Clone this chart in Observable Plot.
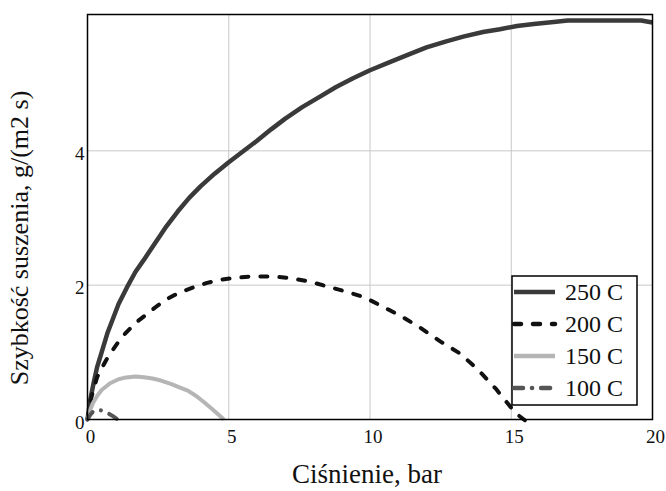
<!DOCTYPE html>
<html>
<head>
<meta charset="utf-8">
<script src="https://cdn.jsdelivr.net/npm/d3@7"></script>
<script src="https://cdn.jsdelivr.net/npm/@observablehq/plot@0.6"></script>
<style>
  html, body { margin: 0; padding: 0; background: #fff; }
  #chart { width: 666px; height: 491px; }
</style>
</head>
<body>
<div id="chart"></div>
<script>
// ---- data ----
const xTicks = [0, 5, 10, 15, 20];
const yTicks = [0, 2, 4];
const seriesNames = ["250 C", "200 C", "150 C", "100 C"];

const p250 = [0, 0.1, 0.22, 0.34, 0.5, 0.7, 0.9, 1.1, 1.4, 1.7, 2.0, 2.3, 2.8, 3.2, 3.6, 4.0, 4.5, 5.0, 5.5, 6.0, 6.5, 7.0, 7.6, 8.2, 8.8, 9.4, 10.0, 10.7, 11.4, 12.0, 12.7, 13.3, 14.0, 14.6, 15.2, 15.8, 16.5, 17.0, 18.0, 19.0, 19.6, 20.0];
const r250 = [0, 0.3, 0.55, 0.78, 1.0, 1.28, 1.5, 1.72, 1.97, 2.2, 2.38, 2.57, 2.88, 3.1, 3.3, 3.47, 3.66, 3.83, 3.99, 4.15, 4.32, 4.48, 4.65, 4.8, 4.95, 5.08, 5.2, 5.32, 5.44, 5.54, 5.63, 5.7, 5.77, 5.81, 5.86, 5.89, 5.92, 5.94, 5.94, 5.94, 5.94, 5.91];

const p200 = [0, 0.15, 0.34, 0.55, 0.75, 1.0, 1.2, 1.5, 1.8, 2.1, 2.4, 2.8, 3.2, 3.7, 4.2, 4.7, 5.2, 5.8, 6.5, 7.1, 7.8, 8.5, 9.1, 9.8, 10.5, 11.1, 11.8, 12.5, 13.2, 13.85, 14.45, 14.95, 15.2, 15.6];
const r200 = [0, 0.35, 0.63, 0.8, 0.95, 1.1, 1.22, 1.35, 1.47, 1.57, 1.67, 1.79, 1.88, 1.96, 2.03, 2.08, 2.11, 2.13, 2.13, 2.11, 2.06, 1.98, 1.91, 1.82, 1.67, 1.54, 1.36, 1.16, 0.98, 0.73, 0.46, 0.2, 0.08, -0.05];

const p150 = [0, 0.1, 0.2, 0.34, 0.5, 0.8, 1.1, 1.3, 1.7, 2.0, 2.3, 2.6, 2.95, 3.3, 3.55, 3.85, 4.15, 4.4, 4.6, 4.83];
const r150 = [0, 0.15, 0.25, 0.35, 0.44, 0.54, 0.6, 0.62, 0.64, 0.63, 0.61, 0.58, 0.53, 0.47, 0.43, 0.35, 0.25, 0.16, 0.085, 0];

const p100 = [0, 0.1, 0.22, 0.45, 0.7, 0.9, 1.1];
const r100 = [0, 0.07, 0.13, 0.14, 0.1, 0.05, -0.01];

const colors = ["#3a3a3a", "#111111", "#b5b5b5", "#555555"];
const dashes = [null, "7,12", null, "9,9,0.1,9"];

// ---- build table ----
const pressures = [p250, p200, p150, p100];
const rates = [r250, r200, r150, r100];
const rows = [];
seriesNames.forEach((name, i) => {
  pressures[i].forEach((p, j) => rows.push({series: name, p, r: rates[i][j]}));
});

const serif = "'Liberation Serif', 'Times New Roman', serif";

const lineMarks = seriesNames.map((name, i) =>
  Plot.line(rows.filter(d => d.series === name), {
    x: "p", y: "r",
    stroke: colors[i],
    strokeWidth: i === 0 ? 4.5 : 4,
    strokeDasharray: dashes[i] || undefined,
    strokeLinecap: dashes[i] ? "round" : "butt",
    strokeLinejoin: "round",
    curve: "linear"
  })
);

const chart = Plot.plot({
  width: 666,
  height: 491,
  marginLeft: 87,
  marginRight: 14,
  marginTop: 14,
  marginBottom: 72,
  style: {fontFamily: serif, fontSize: "19px", background: "#fff", color: "#000", overflow: "visible"},
  x: {domain: [0, 20]},
  y: {domain: [0, 6.03]},
  marks: [
    Plot.gridX(xTicks.slice(1, -1), {stroke: "#c8c8c8", strokeOpacity: 1, strokeWidth: 1}),
    Plot.gridY(yTicks.slice(1), {stroke: "#c8c8c8", strokeOpacity: 1, strokeWidth: 1}),
    ...lineMarks,
    Plot.frame({stroke: "#000", strokeWidth: 1.5}),
    Plot.axisX(xTicks, {tickSize: 0, tickPadding: 10, dx: 3, label: null, fontSize: 19, fill: "#111", tickFormat: d => String(d)}),
    Plot.axisY(yTicks, {tickSize: 0, tickPadding: 3, dy: 3, label: null, fontSize: 19, fill: "#111", tickFormat: d => String(d)}),
    Plot.text(["Ciśnienie, bar"], {frameAnchor: "bottom", textAnchor: "middle", lineAnchor: "bottom", dy: 63, dx: -3, fontSize: 27, fill: "#111"}),
    Plot.text(["Szybkość suszenia, g/(m2 s)"], {frameAnchor: "left", textAnchor: "middle", rotate: -90, dx: -68, dy: 21, fontSize: 26, fill: "#111"})
  ]
});

document.getElementById("chart").appendChild(chart);

// ---- legend (drawn into the same SVG) ----
const svg = d3.select(chart);
const lg = svg.append("g").attr("font-family", serif).attr("font-size", 24).attr("text-anchor", "start");
lg.append("rect").attr("x", 512).attr("y", 276).attr("width", 125).attr("height", 129)
  .attr("fill", "#fff").attr("stroke", "#000").attr("stroke-width", 1.5);
seriesNames.forEach((name, i) => {
  const y = 292 + i * 32;
  const ln = lg.append("line").attr("x1", 514).attr("x2", 555).attr("y1", y).attr("y2", y)
    .attr("stroke", colors[i]).attr("stroke-width", 4.5)
    .attr("stroke-linecap", dashes[i] ? "round" : "butt");
  if (dashes[i]) ln.attr("stroke-dasharray", dashes[i]);
  lg.append("text").attr("x", 565).attr("y", y + 8).attr("fill", "#111").attr("text-anchor", "start").text(name);
});
</script>
</body>
</html>
